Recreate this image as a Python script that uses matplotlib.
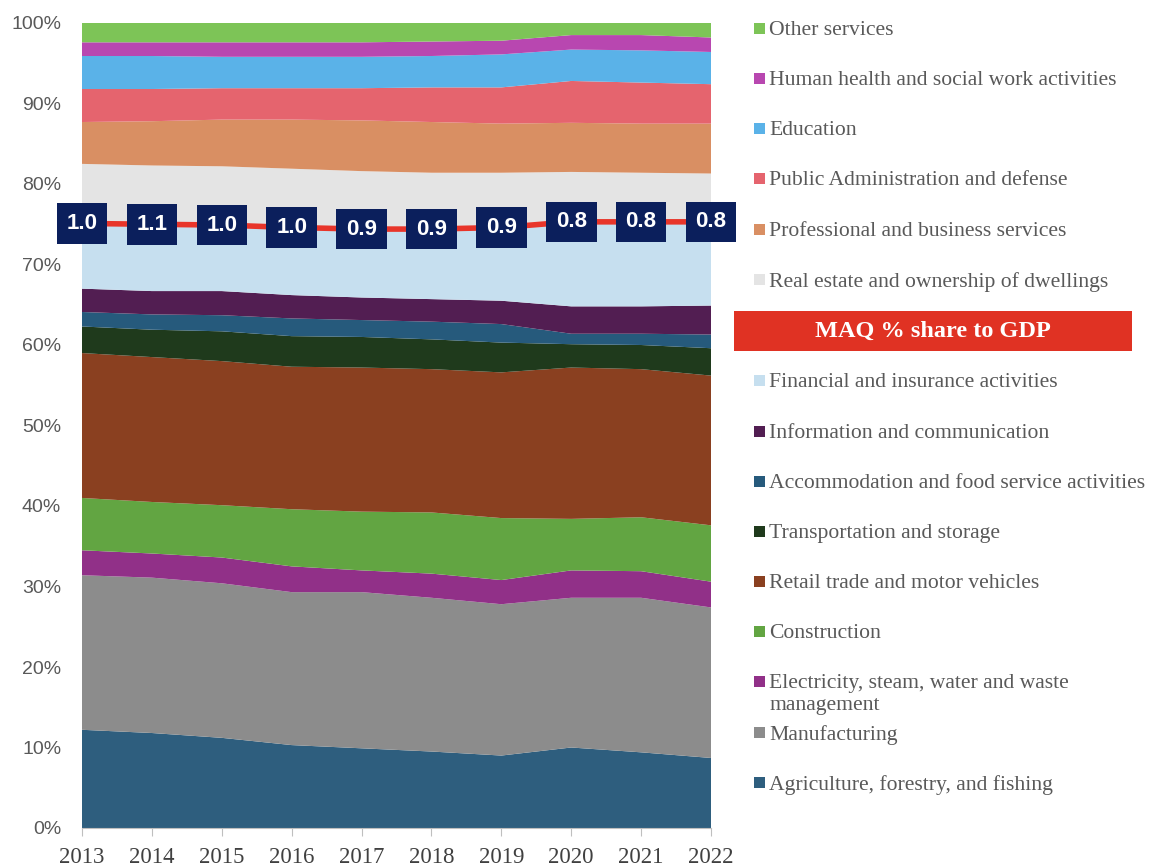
import numpy as np
import matplotlib
matplotlib.use('Agg')
import matplotlib.pyplot as plt
from matplotlib.patches import Rectangle

years = [2013, 2014, 2015, 2016, 2017, 2018, 2019, 2020, 2021, 2022]

# Sector shares of GDP (%), bottom of the stack first
agriculture    = [12.2, 11.8, 11.2, 10.3, 9.9, 9.5, 9.0, 10.0, 9.4, 8.7]
manufacturing  = [19.2, 19.3, 19.2, 19.0, 19.4, 19.1, 18.8, 18.6, 19.2, 18.7]
electricity    = [3.1, 3.0, 3.2, 3.2, 2.7, 3.0, 3.0, 3.4, 3.3, 3.2]
construction   = [6.5, 6.4, 6.5, 7.1, 7.3, 7.6, 7.7, 6.4, 6.7, 7.0]
retail         = [18.0, 18.0, 17.9, 17.7, 17.9, 17.8, 18.1, 18.8, 18.4, 18.6]
transportation = [3.3, 3.4, 3.7, 3.8, 3.8, 3.7, 3.7, 2.9, 3.0, 3.4]
accommodation  = [1.8, 1.9, 2.0, 2.2, 2.1, 2.2, 2.3, 1.3, 1.4, 1.7]
information    = [2.9, 2.9, 3.0, 2.9, 2.8, 2.8, 2.9, 3.4, 3.4, 3.6]
financial      = [8.1, 8.3, 8.2, 8.4, 8.5, 8.7, 9.1, 10.5, 10.5, 10.4]
real_estate    = [7.4, 7.3, 7.3, 7.3, 7.2, 7.0, 6.8, 6.2, 6.1, 6.0]
professional   = [5.2, 5.5, 5.8, 6.1, 6.3, 6.3, 6.1, 6.1, 6.1, 6.2]
public_admin   = [4.1, 4.0, 3.9, 3.9, 4.0, 4.3, 4.5, 5.2, 5.1, 4.9]
education      = [4.1, 4.1, 3.9, 3.9, 3.9, 3.9, 4.1, 3.9, 4.0, 4.0]
health         = [1.7, 1.7, 1.8, 1.8, 1.8, 1.8, 1.7, 1.8, 1.9, 1.8]
other_services = [2.4, 2.4, 2.4, 2.4, 2.4, 2.3, 2.2, 1.5, 1.5, 1.8]

# MAQ share of GDP (%)
maq_share = [1.0, 1.1, 1.0, 1.0, 0.9, 0.9, 0.9, 0.8, 0.8, 0.8]

series = [agriculture, manufacturing, electricity, construction, retail,
          transportation, accommodation, information, financial, real_estate,
          professional, public_admin, education, health, other_services]
names = ['Agriculture, forestry, and fishing', 'Manufacturing',
         'Electricity, steam, water and waste\nmanagement', 'Construction',
         'Retail trade and motor vehicles', 'Transportation and storage',
         'Accommodation and food service activities',
         'Information and communication',
         'Financial and insurance activities',
         'Real estate and ownership of dwellings',
         'Professional and business services',
         'Public Administration and defense', 'Education',
         'Human health and social work activities', 'Other services']
colors = ['#2E5E7E', '#8C8C8C', '#913088', '#62A542', '#8A4020',
          '#1F3A1C', '#265A7C', '#521E52', '#C6DFEF', '#E4E4E4',
          '#D98F63', '#E5646E', '#5AB2E8', '#B847B0', '#7DC457']

data = np.array(series, dtype=float)
data = data / data.sum(axis=0) * 100
cum = np.cumsum(data, axis=0)

W, H = 1155, 868
fig = plt.figure(figsize=(W / 100, H / 100), dpi=100)
ax = fig.add_axes([82 / W, 1 - 828 / H, (711 - 82) / W, (828 - 23) / H])

ax.stackplot(years, data, colors=colors, linewidth=0)

# MAQ line sits on the financial / real estate boundary
line_y = cum[8]
ax.plot(years, line_y, color='#E8352A', lw=4, solid_capstyle='butt', zorder=5)
for x, y, v in zip(years, line_y, maq_share):
    ax.text(x, y, f'{v:.1f}', ha='center', va='center', fontsize=16,
            fontweight='bold', color='white', family='Liberation Sans',
            bbox=dict(boxstyle='square,pad=0.44', fc='#0B1F5C', ec='none'),
            zorder=6)

ax.set_xlim(2013, 2022)
ax.set_ylim(0, 100)
ax.set_xticks(years)
ax.set_xticklabels([str(y) for y in years], family='Liberation Serif',
                   fontsize=16.5, color='#404040')
ax.set_yticks(np.arange(0, 101, 10))
ax.set_yticklabels([f'{t}%' for t in range(0, 101, 10)],
                   family='Liberation Sans', fontsize=14, color='#595959')
ax.tick_params(axis='y', length=0, pad=15)
ax.tick_params(axis='x', length=5.5, color='#BFBFBF', pad=8)
for s in ['top', 'right', 'left']:
    ax.spines[s].set_visible(False)
ax.spines['bottom'].set_color('#BFBFBF')

# Legend drawn by hand, top to bottom
legend_rows = [(14, 28), (13, 78), (12, 128), (11, 178), (10, 229), (9, 279),
               (8, 380), (7, 431), (6, 481), (5, 531), (4, 581), (3, 631),
               (2, 681), (1, 732), (0, 782)]
for idx, ypix in legend_rows:
    fy = 1 - ypix / H
    fig.patches.append(Rectangle((754 / W, fy - 5.5 / H), 11 / W, 11 / H,
                                 transform=fig.transFigure,
                                 fc=colors[idx], ec='none'))
    fig.text(769 / W, fy + 7 / H, names[idx], ha='left', va='top',
             family='Liberation Serif', fontsize=15.6, color='#595959',
             linespacing=1.2)

fig.patches.append(Rectangle((734 / W, 1 - 351 / H), (1132 - 734) / W, 40 / H,
                             transform=fig.transFigure, fc='#E03223', ec='none'))
fig.text(933 / W, 1 - 331 / H, 'MAQ % share to GDP', ha='center', va='center',
         family='Liberation Serif', fontsize=17.5, fontweight='bold', color='white')

fig.savefig('out.png', dpi=100)
